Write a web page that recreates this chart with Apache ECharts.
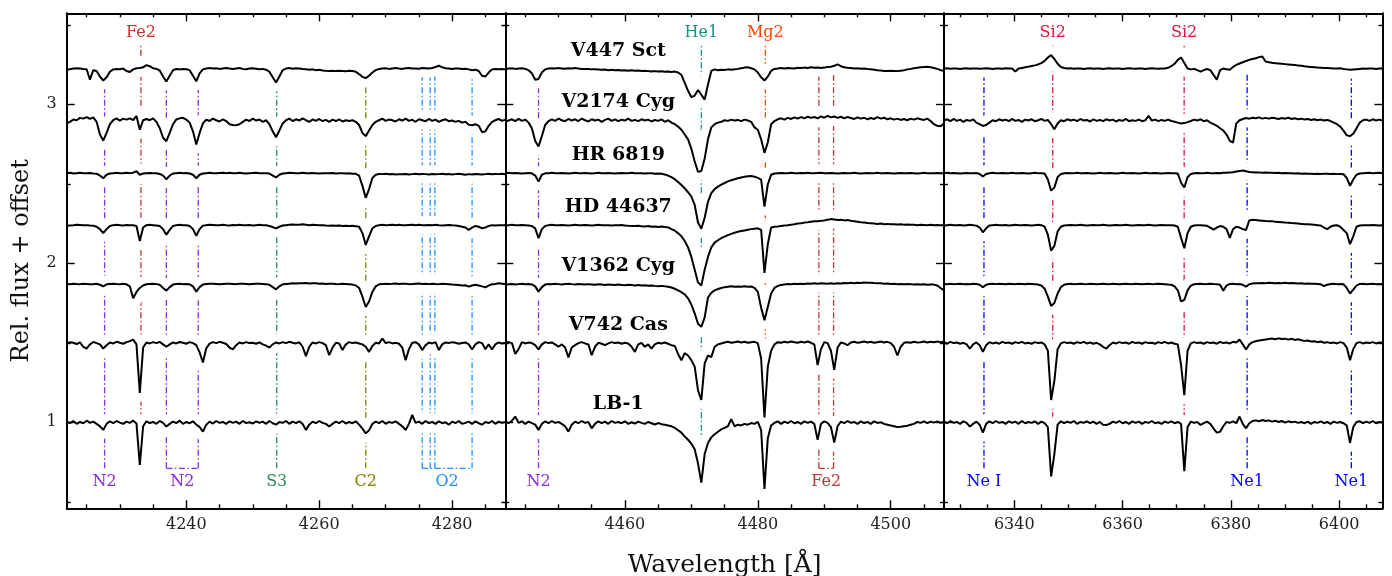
<!DOCTYPE html>
<html>
<head>
<meta charset="utf-8">
<script src="https://cdn.jsdelivr.net/npm/echarts@6/dist/echarts.min.js"></script>
<style>
  html, body { margin: 0; padding: 0; background: #fff; }
  #chart { width: 1392px; height: 576px; }
</style>
</head>
<body>
<div id="chart"></div>
<script>
// ---- stars (top to bottom) and their vertical offsets ----
const stars = ['V447 Sct', 'V2174 Cyg', 'HR 6819', 'HD 44637', 'V1362 Cyg', 'V742 Cas', 'LB-1'];
const offsets = [2.225, 1.90, 1.567, 1.24, 0.87, 0.50, 0.0];

// ---- wavelength windows [start, end] and sampling step (Å) ----
const windows = [[4222, 4288], [4442, 4508], [6327, 6408]];
const steps = [0.5, 0.5, 0.6];

// ---- axis ticks ----
const xMajorTicks = [[4240, 4260, 4280], [4460, 4480, 4500], [6340, 6360, 6380, 6400]];
const yMajorTicks = [1, 2, 3];
const yMinorTicks = [0.5, 1.5, 2.5, 3.5];

// ---- normalised fluxes, window 1 (4222-4288 Å, 0.5 Å steps) ----
const v447Sct_p1 = [
  0.992, 0.996, 1.0, 1.002, 1.001, 0.998, 0.996, 0.93, 0.99, 0.985,
  0.95, 0.925, 0.945, 0.98, 0.995, 0.998, 0.996, 1.0, 0.985, 0.978,
  0.995, 1.002, 1.004, 1.008, 1.022, 1.015, 1.002, 0.998, 0.988, 0.95,
  0.918, 0.955, 0.99, 0.997, 0.995, 0.998, 0.996, 0.99, 0.955, 0.92,
  0.97, 0.995, 1.0, 1.003, 1.0, 1.002, 0.998, 1.001, 1.004, 1.0,
  0.997, 1.001, 1.003, 0.998, 0.996, 1.0, 1.002, 0.999, 0.996, 0.998,
  0.993, 0.98, 0.945, 0.912, 0.95, 0.99, 1.0, 1.003, 0.999, 1.002,
  1.0, 0.997, 0.995, 0.993, 0.995, 0.99, 0.992, 0.988, 0.986, 0.985,
  0.987, 0.984, 0.986, 0.985, 0.983, 0.986, 0.985, 0.98, 0.965, 0.948,
  0.94, 0.955, 0.975, 0.99, 0.997, 1.0, 1.002, 0.998, 1.001, 1.003,
  1.0, 0.998, 1.002, 1.004, 1.0, 1.001, 0.999, 1.003, 1.002, 1.0,
  1.004, 1.01, 1.018, 1.008, 1.002, 1.0, 0.998, 1.001, 1.0, 0.997,
  0.999, 0.995, 0.99, 0.993, 0.985, 0.955, 0.95, 0.975, 0.995, 0.998,
  0.996, 0.998, 0.995
];
const v2174Cyg_p1 = [
  0.98, 0.99, 1.005, 1.0, 1.015, 1.01, 1.02, 1.008, 1.018, 0.99,
  0.91, 0.872, 0.92, 0.975, 1.0, 1.012, 0.998, 1.01, 1.004, 1.012,
  1.0, 1.027, 0.94, 1.0, 1.008, 1.0, 1.012, 0.99, 0.95, 0.89,
  0.868, 0.92, 0.975, 1.005, 1.012, 1.015, 1.004, 0.985, 0.93, 0.848,
  0.92, 0.98, 1.004, 0.995, 1.01, 1.0, 0.992, 1.006, 0.995, 0.975,
  0.97, 0.968, 0.975, 0.99, 1.004, 0.995, 1.01, 0.998, 1.005, 0.99,
  1.0, 0.975, 0.93, 0.893, 0.935, 0.98, 1.0, 1.01, 0.995, 1.006,
  0.998, 1.012, 1.0, 0.99, 1.005, 0.996, 1.008, 0.994, 1.002, 0.99,
  1.004, 0.995, 1.006, 0.992, 1.0, 0.995, 1.0, 0.99, 0.97, 0.92,
  0.9, 0.935, 0.97, 0.99, 1.0, 1.01, 0.996, 1.005, 1.0, 0.992,
  1.006, 0.998, 1.01, 0.996, 1.003, 0.99, 1.006, 1.0, 0.994, 1.008,
  0.996, 1.004, 0.99, 1.0, 1.006, 0.994, 0.998, 0.99, 0.996, 0.985,
  0.99, 0.972, 0.968, 0.975, 0.965, 0.925, 0.93, 0.965, 0.99, 1.0,
  1.008, 0.996, 1.004
];
const hr6819_p1 = [
  1.0, 1.002, 0.998, 1.0, 1.002, 0.999, 1.0, 1.001, 0.998, 0.997,
  0.985, 0.968, 0.99, 0.998, 1.0, 1.002, 0.999, 1.0, 1.002, 1.0,
  1.003, 1.012, 0.99, 0.998, 1.0, 1.001, 0.999, 1.0, 0.995, 0.985,
  0.962, 0.985, 0.998, 1.0, 1.002, 0.999, 1.001, 0.998, 0.99, 0.968,
  0.99, 0.998, 1.0, 1.002, 1.0, 0.999, 1.001, 1.003, 1.0, 1.002,
  0.999, 1.0, 1.002, 1.0, 0.998, 1.0, 1.001, 1.002, 1.0, 0.999,
  1.0, 0.998, 0.985, 0.973, 0.99, 0.998, 1.0, 1.002, 1.001, 0.999,
  1.0, 1.002, 1.0, 0.999, 1.001, 1.0, 0.998, 1.0, 1.0, 0.999,
  1.001, 0.998, 1.0, 0.999, 0.998, 1.0, 0.997, 0.996, 0.985, 0.92,
  0.845, 0.9, 0.97, 0.99, 0.995, 0.994, 0.996, 0.993, 0.995, 0.992,
  0.994, 0.993, 0.995, 0.992, 0.994, 0.996, 0.993, 0.995, 0.994, 0.992,
  0.995, 0.993, 0.994, 0.996, 0.993, 0.995, 0.992, 0.994, 0.996, 0.993,
  0.99, 0.994, 0.992, 0.995, 0.993, 0.991, 0.994, 0.996, 0.993, 0.995,
  0.994, 0.996, 0.993
];
const hd44637_p1 = [
  0.996, 0.998, 1.0, 1.003, 1.001, 0.999, 1.0, 0.998, 0.997, 0.99,
  0.975, 0.95, 0.975, 0.995, 1.0, 1.002, 1.0, 0.998, 1.001, 1.0,
  0.999, 0.995, 0.9, 0.985, 1.0, 1.002, 1.0, 0.998, 0.995, 0.975,
  0.94, 0.97, 0.995, 1.0, 1.002, 1.0, 0.999, 0.995, 0.975, 0.933,
  0.975, 0.997, 1.0, 1.002, 1.001, 0.999, 1.0, 1.003, 1.0, 0.998,
  1.001, 1.0, 1.002, 0.999, 1.0, 1.001, 0.998, 1.0, 1.002, 1.0,
  0.999, 0.995, 0.988, 0.98, 0.99, 0.998, 1.0, 1.002, 1.004, 1.003,
  1.002, 1.005, 1.003, 1.0, 1.002, 1.001, 0.999, 1.0, 0.998, 0.997,
  0.998, 0.996, 0.998, 0.995, 0.996, 0.994, 0.996, 0.993, 0.99, 0.95,
  0.876, 0.93, 0.98, 0.995, 1.0, 1.002, 1.0, 1.001, 1.003, 1.0,
  1.002, 1.0, 0.999, 1.001, 1.003, 1.0, 1.002, 1.0, 0.999, 1.001,
  1.0, 1.002, 0.999, 0.998, 1.0, 1.001, 0.999, 0.998, 0.995, 0.99,
  0.985, 0.97, 0.985, 0.995, 0.99, 0.98, 0.985, 0.995, 1.0, 0.998,
  1.0, 0.999, 1.0
];
const v1362Cyg_p1 = [
  1.0, 0.998, 1.002, 1.0, 0.999, 1.001, 1.0, 0.998, 0.999, 1.001,
  0.995, 0.985, 0.998, 1.0, 1.002, 1.0, 0.999, 1.001, 0.998, 0.985,
  0.91, 0.95, 0.975, 0.99, 0.998, 1.0, 1.001, 0.999, 0.995, 0.975,
  0.958, 0.98, 0.996, 1.0, 1.002, 0.999, 1.0, 0.998, 0.985, 0.952,
  0.98, 0.997, 1.0, 1.002, 1.001, 1.0, 0.998, 1.0, 1.002, 1.001,
  1.0, 0.999, 1.002, 1.001, 1.0, 0.998, 1.0, 1.002, 1.001, 1.0,
  0.999, 0.995, 0.98, 0.966, 0.985, 0.998, 1.0, 1.002, 1.004, 1.003,
  1.005, 1.004, 1.006, 1.003, 1.005, 1.004, 1.002, 1.003, 1.0, 1.001,
  1.002, 1.0, 0.999, 1.001, 1.0, 0.998, 0.996, 0.99, 0.975, 0.92,
  0.855, 0.89, 0.95, 0.985, 0.998, 1.0, 1.002, 1.0, 1.001, 1.003,
  1.0, 1.002, 1.001, 0.999, 1.0, 1.002, 1.003, 1.0, 1.001, 0.999,
  1.002, 1.0, 0.999, 1.001, 1.0, 0.998, 0.996, 0.995, 0.993, 0.99,
  0.992, 0.983, 0.99, 0.995, 0.99, 0.985, 0.979, 0.99, 0.998, 1.0,
  1.004, 1.002, 1.0
];
const v742Cas_p1 = [
  0.995, 1.004, 1.0, 0.992, 1.002, 0.975, 0.964, 0.99, 1.005, 0.998,
  0.99, 0.964, 0.985, 1.002, 0.996, 1.006, 1.0, 0.994, 1.004, 1.01,
  1.02, 0.99, 0.685, 0.97, 1.002, 0.996, 1.004, 0.998, 1.006, 0.99,
  0.975, 0.99, 1.002, 0.996, 1.005, 1.0, 0.994, 1.004, 0.998, 0.985,
  0.94, 0.876, 0.965, 0.995, 1.004, 0.998, 1.006, 1.0, 0.992, 0.97,
  0.958, 0.985, 1.002, 0.996, 1.004, 0.998, 1.0, 0.994, 1.003, 0.99,
  0.982, 0.97, 0.99, 1.002, 0.996, 1.004, 0.998, 1.006, 1.0, 0.996,
  1.003, 0.975, 0.916, 0.975, 1.002, 0.996, 1.004, 0.998, 0.985, 0.922,
  0.97, 1.0, 0.996, 0.954, 0.99, 1.004, 0.998, 1.002, 0.996, 0.99,
  0.975, 0.943, 0.98, 1.0, 0.996, 1.027, 0.998, 1.004, 0.996, 1.0,
  0.994, 0.97, 0.89, 0.96, 1.0, 1.004, 0.99, 0.954, 0.985, 1.002,
  0.996, 1.004, 0.954, 0.99, 1.002, 0.998, 1.004, 1.0, 0.994, 0.998,
  1.002, 0.99, 0.958, 0.99, 1.004, 0.998, 0.96, 0.99, 0.958, 0.99,
  1.002, 0.996, 1.0
];
const lb1_p1 = [
  1.004, 0.995, 1.008, 0.99, 1.002, 0.994, 1.01, 0.996, 1.004, 0.99,
  0.975, 0.952, 0.99, 1.006, 0.994, 1.008, 0.998, 0.99, 1.004, 0.996,
  1.01, 0.992, 0.731, 0.975, 1.006, 0.995, 1.002, 0.99, 1.008, 0.996,
  0.973, 0.99, 1.004, 0.995, 1.01, 0.99, 1.002, 0.994, 1.006, 0.985,
  0.97, 0.941, 0.985, 1.004, 0.992, 1.008, 0.996, 1.002, 0.99, 1.006,
  0.996, 1.004, 0.99, 1.008, 0.995, 1.0, 0.992, 1.006, 0.996, 1.004,
  0.99, 1.008, 0.994, 0.985, 1.002, 0.996, 1.008, 0.99, 1.004, 0.995,
  1.006, 0.99, 0.952, 0.985, 1.004, 0.994, 1.008, 0.996, 0.99, 0.973,
  0.99, 1.004, 0.995, 1.008, 0.992, 1.002, 0.994, 1.006, 0.985, 0.96,
  0.93, 0.95, 0.99, 1.004, 0.995, 1.008, 0.99, 1.002, 0.996, 1.006,
  0.99, 0.975, 0.952, 0.99, 1.046, 0.996, 1.004, 0.99, 1.008, 0.995,
  1.002, 0.99, 1.006, 0.994, 1.0, 0.985, 1.004, 0.995, 1.008, 0.99,
  0.996, 1.004, 0.99, 1.006, 0.994, 0.985, 1.002, 0.995, 1.008, 0.99,
  1.004, 0.996, 1.002
];

// ---- normalised fluxes, window 2 (4442-4508 Å, 0.5 Å steps) ----
const v447Sct_p2 = [
  0.995, 1.0, 1.002, 0.998, 1.0, 1.002, 0.998, 0.99, 0.97, 0.93,
  0.935, 0.975, 0.995, 1.0, 1.002, 1.0, 1.003, 1.001, 0.999, 1.002,
  1.0, 1.003, 1.0, 0.998, 0.997, 0.998, 0.995, 0.996, 0.994, 0.992,
  0.994, 0.99, 0.992, 0.989, 0.991, 0.988, 0.99, 0.987, 0.989, 0.986,
  0.988, 0.985, 0.987, 0.984, 0.982, 0.984, 0.981, 0.983, 0.98, 0.982,
  0.979, 0.981, 0.975, 0.96, 0.91, 0.86, 0.82, 0.83, 0.865, 0.835,
  0.805, 0.9, 0.985, 0.995, 0.99, 0.993, 0.991, 0.995, 0.993, 0.996,
  0.998, 1.002, 1.006, 1.008, 1.002, 0.995, 0.975, 0.945, 0.925, 0.95,
  0.985, 0.998, 1.0, 1.003, 1.001, 1.004, 1.002, 1.0, 1.005, 1.003,
  1.006, 1.004, 1.008, 1.005, 1.007, 1.004, 1.006, 1.01, 1.012, 1.018,
  1.026, 1.015, 1.008, 1.005, 1.003, 1.001, 1.002, 0.999, 1.0, 0.997,
  0.995, 0.993, 0.99, 0.988, 0.985, 0.984, 0.986, 0.985, 0.984, 0.987,
  0.99, 0.995, 0.998, 1.002, 1.005, 1.008, 1.01, 1.012, 1.008, 1.003,
  0.998, 0.99, 0.987
];
const v2174Cyg_p2 = [
  0.99, 0.998, 1.006, 0.995, 1.008, 0.996, 1.004, 0.985, 0.95, 0.87,
  0.835, 0.9, 0.97, 0.995, 1.006, 0.996, 1.01, 1.0, 0.994, 1.008,
  0.998, 1.006, 0.995, 1.01, 1.0, 0.992, 1.006, 0.998, 1.004, 0.99,
  1.002, 1.01, 0.996, 1.006, 0.994, 1.004, 0.998, 1.01, 0.996, 1.002,
  0.994, 1.006, 0.998, 1.004, 0.992, 1.002, 0.996, 1.006, 0.99, 1.0,
  0.985, 0.975, 0.96, 0.94, 0.91, 0.88, 0.82, 0.74, 0.675, 0.68,
  0.76, 0.88, 0.955, 0.975, 0.985, 0.99, 1.0, 0.996, 1.004, 0.998,
  1.002, 0.994, 1.004, 0.998, 0.99, 0.955, 0.94, 0.88, 0.795, 0.86,
  0.975, 0.995, 1.006, 1.012, 1.004, 1.015, 1.008, 1.018, 1.01, 1.02,
  1.012, 1.022, 1.015, 1.02, 1.012, 1.024, 1.016, 1.027, 1.018, 1.024,
  1.015, 1.022, 1.012, 1.02, 1.014, 1.008, 1.018, 1.01, 1.016, 1.006,
  1.014, 1.008, 1.02, 1.01, 1.016, 1.006, 1.012, 1.004, 1.01, 1.002,
  1.008, 1.0, 1.01, 1.004, 1.012, 1.006, 1.002, 1.01, 0.995, 0.975,
  0.965, 0.962, 0.98
];
const hr6819_p2 = [
  1.0, 1.002, 0.999, 1.001, 1.0, 0.998, 1.0, 1.001, 0.999, 0.985,
  0.948, 0.99, 0.999, 1.0, 1.002, 1.0, 0.999, 1.001, 1.0, 0.998,
  1.0, 1.002, 1.0, 0.999, 1.001, 1.0, 0.998, 1.0, 1.002, 1.0,
  0.999, 1.001, 1.0, 0.998, 1.0, 1.001, 0.999, 1.0, 1.002, 1.0,
  0.999, 1.0, 0.998, 1.0, 0.999, 0.997, 0.998, 0.996, 0.992, 0.985,
  0.975, 0.962, 0.945, 0.925, 0.905, 0.88, 0.853, 0.8, 0.69, 0.65,
  0.72, 0.82, 0.875, 0.9, 0.915, 0.928, 0.938, 0.948, 0.956, 0.962,
  0.968, 0.973, 0.978, 0.98, 0.982, 0.978, 0.97, 0.96, 0.79, 0.93,
  0.99, 0.998, 1.0, 1.001, 0.999, 1.0, 1.002, 1.0, 0.999, 1.001,
  1.0, 1.002, 1.0, 0.999, 1.001, 1.003, 1.0, 0.999, 1.001, 1.0,
  0.998, 1.0, 1.001, 0.999, 1.0, 1.002, 1.0, 0.998, 1.0, 1.001,
  0.999, 1.0, 1.002, 1.0, 0.999, 1.001, 1.0, 0.998, 1.0, 1.001,
  1.0, 0.999, 1.001, 1.0, 0.998, 1.0, 1.002, 1.0, 0.999, 1.0,
  1.001, 0.999, 1.0
];
const hd44637_p2 = [
  0.998, 1.0, 1.002, 1.0, 0.999, 1.001, 1.0, 0.998, 0.995, 0.98,
  0.918, 0.975, 0.995, 1.0, 1.002, 1.0, 0.999, 1.001, 1.0, 0.998,
  1.0, 1.002, 1.0, 0.999, 1.001, 1.0, 0.998, 1.0, 1.002, 1.0,
  0.999, 1.0, 0.998, 1.0, 0.999, 1.001, 0.998, 0.996, 0.995, 0.994,
  0.996, 0.993, 0.992, 0.994, 0.99, 0.992, 0.989, 0.991, 0.988, 0.986,
  0.975, 0.965, 0.95, 0.93, 0.9, 0.86, 0.8, 0.72, 0.64, 0.62,
  0.72, 0.8, 0.86, 0.89, 0.905, 0.918, 0.928, 0.937, 0.945, 0.952,
  0.958, 0.963, 0.967, 0.971, 0.975, 0.978, 0.98, 0.97, 0.7, 0.88,
  0.985, 0.99, 0.992, 0.995, 0.998, 1.0, 1.003, 1.006, 1.01, 1.012,
  1.016, 1.018, 1.022, 1.024, 1.025, 1.028, 1.03, 1.034, 1.038, 1.035,
  1.032, 1.034, 1.03, 1.032, 1.028, 1.025, 1.022, 1.018, 1.016, 1.013,
  1.012, 1.01, 1.008, 1.01, 1.006, 1.008, 1.005, 1.006, 1.004, 1.005,
  1.003, 1.004, 1.002, 1.003, 1.0, 1.002, 1.001, 1.0, 1.002, 1.0,
  1.001, 0.999, 1.0
];
const v1362Cyg_p2 = [
  0.994, 0.998, 1.0, 0.997, 0.999, 1.001, 0.998, 1.0, 0.997, 0.985,
  0.952, 0.98, 0.996, 1.0, 0.998, 1.001, 0.999, 0.997, 1.0, 1.002,
  0.999, 0.997, 1.0, 0.998, 0.996, 0.999, 0.997, 0.995, 0.998, 0.996,
  0.994, 0.997, 0.995, 0.993, 0.996, 0.994, 0.992, 0.995, 0.993, 0.991,
  0.993, 0.99, 0.992, 0.989, 0.991, 0.988, 0.986, 0.988, 0.985, 0.983,
  0.978, 0.97, 0.96, 0.948, 0.935, 0.91, 0.87, 0.815, 0.75, 0.73,
  0.79, 0.915, 0.945, 0.96, 0.968, 0.975, 0.98, 0.983, 0.985, 0.982,
  0.984, 0.983, 0.985, 0.982, 0.984, 0.975, 0.95, 0.85, 0.772, 0.855,
  0.94, 0.975, 0.988, 0.994, 0.997, 1.0, 0.998, 1.001, 1.0, 1.002,
  1.0, 1.003, 1.001, 1.004, 1.002, 1.005, 1.003, 1.001, 1.004, 1.002,
  1.005, 1.003, 1.006, 1.004, 1.007, 1.005, 1.008, 1.006, 1.009, 1.007,
  1.008, 1.006, 1.005, 1.004, 1.002, 1.003, 1.0, 1.001, 0.999, 1.0,
  0.998, 1.0, 0.999, 0.997, 0.998, 0.996, 0.998, 0.995, 0.997, 0.996,
  0.99, 0.975, 0.96
];
const v742Cas_p2 = [
  1.006, 1.004, 0.998, 0.93, 0.96, 1.004, 0.996, 1.002, 0.998, 0.985,
  0.958, 0.99, 1.004, 0.998, 1.002, 0.99, 0.975, 0.99, 0.97, 0.908,
  0.97, 0.985, 0.998, 1.004, 0.996, 0.99, 0.922, 0.975, 1.0, 0.994,
  0.985, 0.996, 1.004, 0.998, 1.002, 0.994, 1.0, 0.996, 0.975, 0.943,
  0.99, 1.0, 0.975, 0.99, 0.964, 0.99, 1.0, 0.996, 1.002, 0.994,
  0.985, 0.98, 0.93, 0.89, 0.935, 0.92, 0.89, 0.85, 0.7, 0.64,
  0.87, 0.92, 0.91, 0.975, 0.99, 0.996, 1.002, 1.006, 1.0, 1.004,
  1.008, 1.002, 1.006, 1.0, 1.004, 1.006, 0.998, 0.9, 0.53, 0.85,
  0.95, 0.99, 1.004, 1.0, 1.006, 1.002, 1.008, 1.004, 1.0, 1.006,
  1.002, 1.008, 1.0, 0.99, 0.86, 0.96, 1.004, 0.998, 0.95, 0.83,
  0.97, 1.002, 0.996, 0.985, 1.002, 1.006, 1.0, 1.004, 1.008, 1.002,
  1.006, 1.0, 1.004, 1.008, 1.002, 1.006, 0.998, 0.975, 0.92, 0.975,
  1.0, 1.004, 1.0, 1.006, 1.002, 1.004, 1.008, 1.002, 1.006, 1.004,
  1.008, 1.004, 1.006
];
const lb1_p2 = [
  1.004, 0.994, 1.01, 1.036, 0.996, 1.006, 0.99, 1.004, 0.995, 0.985,
  0.952, 0.99, 1.006, 0.994, 1.008, 0.996, 1.002, 0.99, 0.975, 0.941,
  0.985, 1.004, 0.994, 1.008, 0.996, 1.002, 0.962, 0.99, 1.006, 0.995,
  1.004, 0.99, 1.008, 0.996, 1.002, 0.994, 1.006, 0.99, 1.0, 0.992,
  1.004, 0.996, 0.99, 1.002, 0.994, 0.986, 0.995, 0.988, 0.985, 0.98,
  0.975, 0.965, 0.95, 0.935, 0.91, 0.89, 0.865, 0.83, 0.74, 0.62,
  0.8, 0.87, 0.905, 0.925, 0.94, 0.955, 0.965, 0.975, 1.02, 0.975,
  0.985, 0.98, 0.99, 0.985, 0.995, 0.99, 1.002, 0.95, 0.58, 0.9,
  0.98, 0.996, 1.006, 0.99, 1.004, 0.995, 1.008, 0.994, 1.002, 0.99,
  1.006, 0.996, 1.004, 0.99, 0.889, 0.99, 1.006, 0.996, 0.97, 0.872,
  0.975, 1.004, 0.994, 1.008, 0.996, 1.002, 0.99, 1.006, 0.995, 1.002,
  0.99, 1.006, 0.996, 1.0, 0.99, 0.985, 0.98, 0.975, 0.97, 0.972,
  0.975, 0.978, 0.985, 0.99, 1.002, 0.996, 1.006, 0.994, 1.004, 0.998,
  1.006, 0.996, 1.002
];

// ---- normalised fluxes, window 3 (6327-6408 Å, 0.6 Å steps) ----
const v447Sct_p3 = [
  1.0, 1.002, 0.999, 1.001, 1.0, 0.998, 1.0, 1.002, 0.999, 1.0,
  1.001, 0.999, 1.0, 1.002, 1.0, 0.998, 1.001, 1.0, 0.999, 1.002,
  1.0, 1.001, 0.981, 1.0, 1.004, 1.008, 1.012, 1.016, 1.02, 1.026,
  1.034, 1.048, 1.07, 1.085, 1.06, 1.03, 1.01, 1.004, 1.0, 1.002,
  0.999, 1.0, 1.001, 0.998, 1.0, 1.002, 0.999, 1.0, 1.001, 0.998,
  1.0, 1.002, 0.999, 1.0, 1.001, 0.998, 1.0, 1.002, 1.0, 0.999,
  1.001, 1.0, 0.998, 1.0, 1.002, 1.0, 0.999, 1.001, 1.0, 1.005,
  1.015, 1.03, 1.055, 1.07, 1.035, 1.0, 0.995, 0.998, 0.99, 0.981,
  0.99, 0.997, 0.99, 0.96, 0.93, 0.99, 1.0, 0.996, 0.992, 1.01,
  1.023, 1.032, 1.04, 1.048, 1.055, 1.06, 1.065, 1.072, 1.076, 1.044,
  1.04, 1.036, 1.034, 1.032, 1.03, 1.028, 1.026, 1.024, 1.022, 1.02,
  1.018, 1.014, 1.012, 1.01, 1.008, 1.006, 1.005, 1.004, 1.003, 1.002,
  1.0, 1.001, 1.002, 0.998, 0.995, 0.992, 0.994, 0.996, 0.998, 1.0,
  0.999, 1.001, 1.0, 0.998, 1.0, 1.001
];
const v2174Cyg_p3 = [
  0.998, 1.006, 0.994, 1.008, 0.996, 1.004, 0.99, 1.002, 0.996, 1.006,
  0.985, 0.975, 0.964, 0.97, 0.985, 1.0, 0.994, 1.006, 0.998, 1.004,
  0.994, 1.008, 0.996, 1.002, 0.99, 1.004, 0.998, 1.006, 0.994, 1.0,
  1.008, 0.996, 1.002, 0.975, 0.943, 0.98, 1.0, 0.994, 1.006, 0.998,
  1.004, 0.994, 1.008, 0.998, 1.002, 0.992, 1.006, 0.996, 1.002, 0.994,
  1.006, 0.998, 1.004, 0.992, 1.002, 0.996, 1.008, 0.994, 1.0, 0.996,
  1.004, 0.994, 1.0, 1.027, 0.998, 1.004, 0.994, 1.002, 0.996, 1.004,
  0.995, 0.99, 0.985, 0.98, 0.982, 0.988, 0.995, 1.004, 0.998, 1.006,
  0.994, 1.0, 0.985, 0.975, 0.965, 0.95, 0.935, 0.91, 0.87, 0.86,
  0.98, 1.0, 1.008, 1.014, 1.01, 1.016, 1.012, 1.018, 1.01, 1.015,
  1.01, 1.016, 1.012, 1.008, 1.014, 1.01, 1.016, 1.008, 1.012, 1.006,
  1.01, 1.004, 1.008, 1.002, 1.006, 1.0, 1.004, 0.998, 1.002, 0.995,
  0.985, 0.975, 0.96, 0.935, 0.905, 0.9, 0.915, 0.95, 0.985, 1.0,
  1.004, 0.996, 1.006, 0.998, 1.004, 0.998
];
const hr6819_p3 = [
  1.0, 1.002, 0.999, 1.001, 1.0, 0.998, 1.0, 1.001, 0.999, 1.0,
  1.001, 0.995, 0.979, 0.995, 1.0, 1.002, 0.999, 1.0, 1.001, 0.999,
  1.0, 1.002, 1.0, 0.999, 1.001, 1.0, 0.998, 1.0, 1.002, 0.999,
  1.0, 0.998, 0.96, 0.89, 0.91, 0.975, 0.995, 1.0, 1.001, 0.999,
  1.0, 1.002, 1.0, 0.999, 1.001, 1.0, 0.998, 1.0, 1.002, 1.0,
  0.999, 1.001, 1.0, 0.998, 1.0, 1.002, 1.0, 0.999, 1.001, 1.0,
  0.998, 1.0, 1.002, 1.0, 0.999, 1.001, 1.0, 0.998, 1.0, 1.001,
  0.999, 1.0, 0.998, 0.94, 0.91, 0.975, 0.995, 1.0, 1.001, 0.999,
  1.0, 1.002, 1.0, 0.999, 1.001, 1.0, 1.003, 1.002, 1.004, 1.006,
  1.01, 1.014, 1.017, 1.012, 1.008, 1.006, 1.004, 1.005, 1.003, 1.004,
  1.002, 1.003, 1.001, 1.002, 1.0, 1.001, 0.999, 1.0, 0.998, 0.999,
  0.997, 0.998, 0.996, 0.997, 0.995, 0.996, 0.995, 0.997, 0.996, 0.995,
  0.996, 0.994, 0.995, 0.993, 0.97, 0.92, 0.96, 0.99, 0.998, 1.0,
  1.001, 1.002, 1.0, 1.001, 1.002, 1.0
];
const hd44637_p3 = [
  0.998, 1.0, 1.002, 0.999, 1.0, 1.001, 0.998, 1.0, 1.002, 1.0,
  0.997, 0.985, 0.955, 0.98, 0.998, 1.0, 1.002, 0.999, 1.0, 1.001,
  0.998, 1.0, 1.002, 1.0, 0.999, 1.001, 1.0, 0.998, 1.0, 1.002,
  1.0, 0.99, 0.94, 0.84, 0.87, 0.96, 0.99, 0.998, 1.0, 1.001,
  0.999, 1.0, 1.002, 1.0, 0.998, 1.0, 1.001, 0.999, 1.0, 1.002,
  1.0, 0.998, 1.0, 1.001, 0.999, 1.0, 1.002, 1.0, 0.998, 1.0,
  1.001, 0.999, 1.0, 1.002, 1.0, 0.998, 1.0, 1.001, 0.999, 1.0,
  1.0, 0.998, 0.99, 0.92, 0.855, 0.95, 0.99, 0.998, 1.0, 1.0,
  0.998, 0.996, 0.985, 0.972, 0.985, 0.994, 0.99, 0.975, 0.92, 0.975,
  0.99, 0.985, 0.975, 0.97, 1.03, 1.034, 1.032, 1.03, 1.028, 1.026,
  1.025, 1.024, 1.022, 1.02, 1.018, 1.016, 1.015, 1.013, 1.012, 1.01,
  1.008, 1.006, 1.005, 1.004, 1.002, 1.0, 0.998, 0.985, 0.975, 0.99,
  0.998, 1.0, 0.99, 0.97, 0.95, 0.88, 0.93, 0.99, 0.998, 1.0,
  1.0, 0.999, 1.001, 1.0, 0.998, 1.0
];
const v1362Cyg_p3 = [
  1.0, 0.998, 1.001, 0.999, 1.0, 1.002, 0.999, 1.0, 0.998, 1.001,
  1.0, 0.995, 0.979, 0.995, 1.0, 1.002, 0.999, 1.001, 1.0, 0.998,
  1.001, 1.0, 0.999, 1.002, 1.0, 0.998, 1.001, 1.0, 0.999, 0.996,
  0.99, 0.97, 0.92, 0.862, 0.88, 0.94, 0.98, 0.995, 1.0, 1.001,
  0.999, 1.0, 1.002, 1.0, 0.999, 1.001, 1.0, 0.998, 1.0, 1.002,
  1.0, 0.999, 1.001, 1.0, 0.998, 1.0, 1.002, 1.0, 0.999, 1.001,
  1.0, 0.998, 1.0, 1.001, 0.999, 1.0, 1.002, 1.0, 0.998, 0.996,
  0.995, 0.985, 0.96, 0.89, 0.9, 0.96, 0.99, 0.998, 1.0, 1.001,
  0.999, 1.0, 1.002, 1.0, 0.999, 0.995, 0.958, 0.99, 1.0, 1.001,
  0.999, 1.0, 0.995, 0.983, 0.998, 1.003, 1.005, 1.004, 1.006, 1.005,
  1.007, 1.006, 1.004, 1.006, 1.005, 1.007, 1.004, 1.006, 1.005, 1.003,
  1.004, 1.002, 1.003, 1.001, 1.002, 1.0, 0.998, 0.987, 0.995, 1.0,
  1.001, 0.999, 1.0, 0.998, 0.975, 0.94, 0.965, 0.99, 1.0, 1.001,
  0.999, 1.0, 1.001, 0.999, 1.0, 0.998
];
const v742Cas_p3 = [
  1.004, 0.994, 1.006, 0.998, 1.002, 0.994, 1.0, 0.99, 0.964, 0.99,
  1.002, 0.985, 0.943, 0.985, 1.004, 0.996, 1.002, 0.994, 1.006, 0.998,
  1.002, 0.994, 1.004, 0.998, 1.006, 0.996, 1.0, 0.994, 1.004, 0.998,
  1.002, 0.99, 0.95, 0.64, 0.76, 0.96, 0.996, 1.004, 0.998, 1.002,
  0.994, 1.004, 0.998, 1.006, 0.996, 1.002, 0.994, 1.0, 0.99, 0.975,
  0.964, 0.985, 1.002, 0.996, 1.004, 0.998, 1.002, 0.994, 1.006, 0.998,
  1.002, 0.994, 1.004, 0.998, 1.0, 0.994, 1.004, 0.998, 1.006, 0.996,
  1.002, 0.994, 0.99, 0.86, 0.67, 0.95, 0.996, 1.004, 0.998, 1.002,
  0.994, 1.004, 0.998, 1.002, 0.994, 1.006, 0.998, 1.002, 0.996, 1.006,
  1.002, 1.021, 0.99, 0.958, 0.99, 1.004, 1.01, 1.014, 1.018, 1.02,
  1.024, 1.027, 1.022, 1.028, 1.024, 1.026, 1.02, 1.025, 1.018, 1.022,
  1.016, 1.012, 1.014, 1.008, 1.01, 1.004, 1.008, 1.0, 1.004, 0.998,
  1.002, 0.996, 1.004, 0.998, 0.97, 0.89, 0.96, 0.998, 1.004, 0.996,
  1.002, 0.998, 1.004, 0.996, 1.002, 1.0
];
const lb1_p3 = [
  1.004, 0.994, 1.008, 0.996, 1.002, 0.99, 1.006, 0.996, 0.973, 0.99,
  1.004, 0.985, 0.935, 0.99, 1.006, 0.994, 1.008, 0.996, 1.002, 0.99,
  1.006, 0.996, 1.004, 0.99, 1.008, 0.994, 1.002, 0.996, 1.006, 0.99,
  1.004, 0.994, 0.97, 0.66, 0.8, 0.985, 1.006, 0.994, 1.004, 0.996,
  1.008, 0.99, 1.002, 0.996, 1.006, 0.994, 1.004, 0.99, 1.002, 0.985,
  0.983, 0.99, 1.004, 0.996, 1.008, 0.994, 1.002, 0.99, 1.006, 0.996,
  1.004, 0.99, 1.002, 0.996, 1.008, 0.994, 1.0, 0.99, 1.004, 0.996,
  1.006, 0.994, 1.002, 0.99, 0.693, 0.97, 1.004, 0.996, 1.002, 0.983,
  0.994, 1.004, 0.99, 0.96, 0.935, 0.94, 0.975, 1.002, 0.996, 1.006,
  0.994, 1.036, 0.99, 0.962, 0.994, 1.008, 1.012, 1.006, 1.014, 1.008,
  1.012, 1.004, 1.01, 1.002, 1.008, 0.998, 1.006, 1.0, 1.004, 0.996,
  1.002, 0.994, 1.004, 0.99, 1.002, 0.996, 1.006, 0.994, 1.002, 0.99,
  1.004, 0.996, 1.002, 0.994, 0.98, 0.87, 0.97, 1.002, 1.006, 0.994,
  1.004, 0.996, 1.008, 0.994, 1.002, 0.998
];

// ---- line identifications per window (rest wavelengths, Å) ----
const p1Ions = ['N2', 'Fe2', 'N2', 'S3', 'C2', 'O2'];
const p1Waves = [[4227.7], [4233.17], [4237.0, 4241.8], [4253.6], [4267.0], [4275.5, 4276.7, 4277.4, 4283.0]];
const p2Ions = ['N2', 'He1', 'Mg2', 'Fe2'];
const p2Waves = [[4447.0], [4471.5], [4481.13], [4489.18, 4491.4]];
const p3Ions = ['Ne I', 'Si2', 'Si2', 'Ne1', 'Ne1'];
const p3Waves = [[6334.4], [6347.1], [6371.37], [6383.0], [6402.25]];

// ---- presentation ----
const ionColors = {
  'N2': '#8a2be2', 'Fe2': '#c43434', 'S3': '#2e8b57', 'C2': '#808000', 'O2': '#1e90ff',
  'He1': '#1a9088', 'Mg2': '#ff4500', 'Si2': '#dc143c', 'Ne I': '#0000ff', 'Ne1': '#0000ff'
};
const labelSides = [
  ['bottom', 'top', 'bottom', 'bottom', 'bottom', 'bottom'],
  ['bottom', 'top', 'top', 'bottom'],
  ['bottom', 'top', 'top', 'bottom', 'bottom']
];

const fluxTable = [
  [v447Sct_p1, v2174Cyg_p1, hr6819_p1, hd44637_p1, v1362Cyg_p1, v742Cas_p1, lb1_p1],
  [v447Sct_p2, v2174Cyg_p2, hr6819_p2, hd44637_p2, v1362Cyg_p2, v742Cas_p2, lb1_p2],
  [v447Sct_p3, v2174Cyg_p3, hr6819_p3, hd44637_p3, v1362Cyg_p3, v742Cas_p3, lb1_p3]
];
const ionTable = [[p1Ions, p1Waves], [p2Ions, p2Waves], [p3Ions, p3Waves]];

const SERIF = '"DejaVu Serif", "Liberation Serif", serif';
const GRID_LEFT = 66.7, GRID_W = 438.6, GRID_TOP = 13.3, GRID_H = 495;
const Y_MIN = 0.4588, Y_MAX = 3.5727;
const Y_LABEL_TOP = 3.449, Y_LABEL_BOTTOM = 0.627;
const Y_MARK_TOP_LABELLED = 3.385, Y_MARK_TOP = 3.2, Y_BRACKET = 0.71;
const NAME_LIFT = 1.113;

const grids = [], xAxes = [], yAxes = [], series = [];
const frame = { show: true, onZero: false, lineStyle: { color: '#000', width: 2 } };
const noLine = { show: false, onZero: false };
const tickStyle = { color: '#000', width: 1.4 };
const plainNumber = v => String(v);

// text drawn centred on a data point, no halo or inherited fading
const textLabel = (extra) => Object.assign({
  show: true, position: [0.5, 0.5], align: 'center', verticalAlign: 'middle',
  formatter: '{b}', fontFamily: SERIF, textBorderWidth: 0, opacity: 1
}, extra);

windows.forEach(([w0, w1], p) => {
  // fixed panel rectangles; axis names may sit outside without shrinking them
  grids.push({
    left: GRID_LEFT + p * GRID_W, top: GRID_TOP, width: GRID_W, height: GRID_H,
    containLabel: false, outerBoundsMode: 'none'
  });

  const xMinor = [];
  for (let w = Math.ceil(w0 / 5) * 5; w <= w1; w += 5) {
    if (!xMajorTicks[p].includes(w)) xMinor.push(w);
  }
  const xBase = { gridIndex: p, type: 'value', min: w0, max: w1, splitLine: { show: false }, z: 10 };
  xAxes.push(Object.assign({}, xBase, {
    position: 'bottom', axisLine: frame,
    axisTick: { show: true, inside: true, length: 8, customValues: xMajorTicks[p], lineStyle: tickStyle },
    axisLabel: { show: true, customValues: xMajorTicks[p], formatter: plainNumber, margin: 9,
                 fontFamily: SERIF, fontSize: 16, color: '#222' },
    name: p === 1 ? 'Wavelength [Å]' : '', nameLocation: 'middle', nameGap: 45,
    nameTextStyle: { fontFamily: SERIF, fontSize: 25, color: '#111' }
  }));
  xAxes.push(Object.assign({}, xBase, {
    position: 'bottom', axisLine: noLine,
    axisTick: { show: true, inside: true, length: 4, customValues: xMinor, lineStyle: tickStyle },
    axisLabel: { show: false }
  }));
  xAxes.push(Object.assign({}, xBase, {
    position: 'top', axisLine: frame,
    axisTick: { show: true, inside: true, length: 8, customValues: xMajorTicks[p], lineStyle: tickStyle },
    axisLabel: { show: false }
  }));
  xAxes.push(Object.assign({}, xBase, {
    position: 'top', axisLine: noLine,
    axisTick: { show: true, inside: true, length: 4, customValues: xMinor, lineStyle: tickStyle },
    axisLabel: { show: false }
  }));

  const yBase = { gridIndex: p, type: 'value', min: Y_MIN, max: Y_MAX, splitLine: { show: false }, z: 10 };
  yAxes.push(Object.assign({}, yBase, {
    position: 'left', axisLine: frame,
    axisTick: { show: true, inside: true, length: 8, customValues: yMajorTicks, lineStyle: tickStyle },
    axisLabel: { show: p === 0, customValues: yMajorTicks, formatter: plainNumber, margin: 10,
                 fontFamily: SERIF, fontSize: 16, color: '#222' },
    name: p === 0 ? 'Rel. flux + offset' : '', nameLocation: 'middle', nameGap: 33,
    nameTextStyle: { fontFamily: SERIF, fontSize: 24, color: '#111' }
  }));
  yAxes.push(Object.assign({}, yBase, {
    position: 'left', axisLine: noLine,
    axisTick: { show: true, inside: true, length: 4, customValues: yMinorTicks, lineStyle: tickStyle },
    axisLabel: { show: false }
  }));
  yAxes.push(Object.assign({}, yBase, {
    position: 'right', axisLine: frame,
    axisTick: { show: true, inside: true, length: 8, customValues: yMajorTicks, lineStyle: tickStyle },
    axisLabel: { show: false }
  }));
  yAxes.push(Object.assign({}, yBase, {
    position: 'right', axisLine: noLine,
    axisTick: { show: true, inside: true, length: 4, customValues: yMinorTicks, lineStyle: tickStyle },
    axisLabel: { show: false }
  }));

  const ax = { xAxisIndex: 4 * p, yAxisIndex: 4 * p };

  // spectra: white halo underneath, black trace on top
  fluxTable[p].forEach((flux, s) => {
    const pts = flux.map((f, i) => [w0 + i * steps[p], f + offsets[s]]);
    series.push(Object.assign({
      type: 'line', data: pts, symbol: 'none', silent: true, z: 2,
      lineStyle: { color: '#fff', width: 18, join: 'round', cap: 'round' }
    }, ax));
    series.push(Object.assign({
      type: 'line', name: stars[s], data: pts, symbol: 'none', silent: true, z: 3,
      lineStyle: { color: '#000', width: 2 }
    }, ax));
  });

  // line identification markers
  const [ions, waves] = ionTable[p];
  const labels = [];
  ions.forEach((ion, g) => {
    const color = ionColors[ion];
    const side = labelSides[p][g];
    const top = side === 'top' ? Y_MARK_TOP_LABELLED : Y_MARK_TOP;
    const dash = { color: color, width: 1.3, type: [6, 2.5, 1.5, 2.5] };
    waves[g].forEach(w => {
      series.push(Object.assign({
        type: 'line', data: [[w, Y_BRACKET], [w, top]], symbol: 'none', silent: true, z: 1, lineStyle: dash
      }, ax));
    });
    const wMin = Math.min(...waves[g]), wMax = Math.max(...waves[g]);
    if (waves[g].length > 1) {
      series.push(Object.assign({
        type: 'line', data: [[wMin, Y_BRACKET], [wMax, Y_BRACKET]], symbol: 'none', silent: true, z: 1,
        lineStyle: dash
      }, ax));
    }
    labels.push({
      value: side === 'top' ? [waves[g][0], Y_LABEL_TOP] : [(wMin + wMax) / 2, Y_LABEL_BOTTOM],
      name: ion, label: { color: color }
    });
  });
  series.push(Object.assign({
    type: 'scatter', data: labels, symbolSize: 1, silent: true, z: 5,
    itemStyle: { color: 'rgba(0,0,0,0)' },
    emphasis: { disabled: true },
    label: textLabel({ fontSize: 16 })
  }, ax));
});

// star names in the middle window
series.push({
  type: 'scatter', xAxisIndex: 4, yAxisIndex: 4, symbolSize: 1, silent: true, z: 5,
  itemStyle: { color: 'rgba(0,0,0,0)' },
  emphasis: { disabled: true },
  data: stars.map((n, s) => ({ value: [4459, offsets[s] + NAME_LIFT], name: n })),
  label: textLabel({ fontSize: 19, fontWeight: 'bold', color: '#000' })
});

const chart = echarts.init(document.getElementById('chart'));
chart.setOption({
  animation: false,
  backgroundColor: '#fff',
  grid: grids,
  xAxis: xAxes,
  yAxis: yAxes,
  series: series
});
</script>
</body>
</html>
